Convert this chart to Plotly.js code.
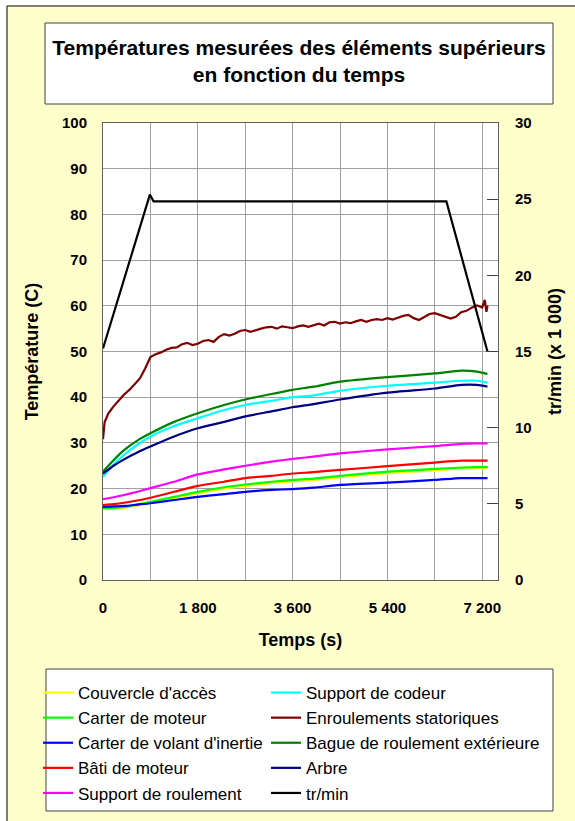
<!DOCTYPE html>
<html>
<head>
<meta charset="utf-8">
<script src="https://cdn.plot.ly/plotly-3.0.1.min.js"></script>
<style>
  html, body { margin: 0; padding: 0; background: #ffffff; }
  #chart { width: 575px; height: 821px; }
</style>
</head>
<body>
<div id="chart"></div>
<script>
// ---------- DATA ----------
const seriesNames = [
  "Couvercle d'accès", "Carter de moteur", "Carter de volant d'inertie", "Bâti de moteur", "Support de roulement",
  "Support de codeur", "Enroulements statoriques", "Bague de roulement extérieure", "Arbre", "tr/min"
];
const seriesColors = [
  "#ffff00", "#00ff00", "#0000ff", "#ff0000", "#ff00ff",
  "#00ffff", "#800000", "#008000", "#000080", "#000000"
];

// time (s) for the smooth temperature series
const tempTime = [0, 200, 400, 650, 900, 1350, 1800, 2300, 2700, 3200, 3600, 4000, 4500, 5400, 6300, 6800, 7100, 7300];

const couvercle   = [15.5, 15.6, 15.8, 16.3, 16.8, 17.9, 19.0, 20.0, 20.6, 21.2, 21.6, 21.9, 22.5, 23.4, 24.0, 24.4, 24.5, 24.5];
const carterMot   = [15.7, 15.8, 16.0, 16.5, 17.1, 18.2, 19.3, 20.3, 20.9, 21.5, 21.9, 22.2, 22.8, 23.7, 24.3, 24.6, 24.7, 24.7];
const carterVol   = [16.0, 16.1, 16.2, 16.5, 16.8, 17.5, 18.2, 18.8, 19.3, 19.7, 19.9, 20.2, 20.8, 21.3, 21.9, 22.3, 22.3, 22.3];
const batiMoteur  = [16.4, 16.6, 16.9, 17.4, 18.0, 19.3, 20.6, 21.5, 22.3, 22.8, 23.3, 23.6, 24.1, 24.9, 25.7, 26.1, 26.1, 26.1];
const suppRoul    = [17.7, 18.1, 18.6, 19.3, 20.1, 21.5, 23.1, 24.2, 25.0, 25.9, 26.5, 27.0, 27.7, 28.6, 29.3, 29.8, 29.9, 29.9];
const suppCodeur  = [22.6, 25.2, 27.4, 29.6, 31.4, 33.7, 35.4, 37.2, 38.3, 39.2, 40.0, 40.4, 41.4, 42.5, 43.2, 43.6, 43.6, 43.2];
const bague       = [23.7, 26.2, 28.4, 30.5, 32.1, 34.6, 36.5, 38.3, 39.5, 40.7, 41.6, 42.3, 43.4, 44.4, 45.2, 45.8, 45.6, 45.1];
const arbre       = [23.3, 25.0, 26.4, 27.9, 29.2, 31.4, 33.2, 34.6, 35.8, 36.9, 37.8, 38.5, 39.5, 41.0, 41.9, 42.7, 42.7, 42.3];

// noisy winding temperature
const enrTime = [0, 30, 100, 200, 300, 400, 500, 600, 700, 800, 900, 1000, 1100, 1200, 1300, 1400, 1500, 1600, 1700, 1800,
  1900, 2000, 2100, 2200, 2300, 2400, 2500, 2600, 2700, 2800, 2900, 3000, 3100, 3200, 3300, 3400, 3500, 3600, 3700, 3800,
  3900, 4000, 4100, 4200, 4300, 4400, 4500, 4600, 4700, 4800, 4900, 5000, 5100, 5200, 5300, 5400, 5500, 5600, 5700, 5800,
  5900, 6000, 6100, 6200, 6300, 6400, 6500, 6600, 6700, 6800, 6900, 7000, 7100, 7150, 7200, 7250, 7280, 7300];
const enroulements = [30.8, 34.5, 36.4, 38.0, 39.3, 40.6, 41.6, 42.9, 44.1, 46.3, 48.8, 49.4, 49.8, 50.4, 50.8, 50.9, 51.6, 51.9, 51.4, 51.7,
  52.3, 52.5, 52.1, 53.2, 53.8, 53.5, 53.9, 54.5, 54.7, 54.3, 54.7, 55.0, 55.3, 55.4, 55.0, 55.5, 55.3, 55.1, 55.5, 55.7,
  55.4, 55.8, 56.1, 55.7, 56.4, 56.5, 56.1, 56.4, 56.2, 56.6, 56.9, 56.5, 56.9, 57.1, 56.9, 57.3, 57.0, 57.4, 57.8, 58.0,
  57.3, 56.9, 57.6, 58.2, 58.4, 58.0, 57.5, 57.2, 57.6, 58.6, 58.9, 59.6, 60.1, 59.8, 59.6, 61.3, 58.7, 60.0];

// rotation speed (tr/min x 1000)
const rpmTime = [0, 890, 960, 6520, 7300];
const rpm = [15.2, 25.3, 24.85, 24.85, 15.0];

// axis ticks
const xTickVals = [0, 900, 1800, 2700, 3600, 4500, 5400, 6300, 7200];
const xTickText = ["0", "", "1 800", "", "3 600", "", "5 400", "", "7 200"];

// ---------- LAYOUT HELPERS ----------
const W = 575, H = 821;
const M = {l: 103, r: 77, t: 123, b: 241, autoexpand: false};
const PW = W - M.l - M.r, PH = H - M.t - M.b;
const px = x => (x - M.l) / PW;
const py = y => (H - M.b - y) / PH;

const FONT = "Liberation Sans, Arial, sans-serif";

const seriesX = [tempTime, tempTime, tempTime, tempTime, tempTime, tempTime, enrTime, tempTime, tempTime, rpmTime];
const seriesY = [couvercle, carterMot, carterVol, batiMoteur, suppRoul, suppCodeur, enroulements, bague, arbre, rpm];

const traces = seriesNames.map((name, i) => ({
  type: "scatter",
  mode: "lines",
  name: name,
  x: seriesX[i],
  y: seriesY[i],
  yaxis: i === 9 ? "y2" : "y",
  line: {color: seriesColors[i], width: 2.2, shape: i === 6 || i === 9 ? "linear" : "spline", smoothing: 0.6},
  legend: i < 5 ? "legend" : "legend2",
  legendgroup: "g" + i,
  hoverinfo: "skip"
}));

const boxLine = {color: "#404040", width: 1};
const titleFont = {family: FONT, size: 18, weight: "bold", color: "#000000"};
const tickFont = {family: FONT, size: 15, weight: "bold", color: "#000000"};
const legendFont = {family: FONT, size: 17, color: "#000000"};

const layout = {
  width: W, height: H,
  margin: M,
  paper_bgcolor: "#ffffff",
  plot_bgcolor: "#ffffff",
  showlegend: true,
  font: {family: FONT, color: "#000000"},
  title: {
    text: "Températures mesurées des éléments supérieurs<br>en fonction du temps",
    x: 299 / W, xanchor: "center", xref: "container",
    y: 1 - 55 / H, yanchor: "middle", yref: "container",
    font: {family: FONT, size: 21, weight: "bold", color: "#000000"}
  },
  xaxis: {
    range: [0, 7500],
    tickmode: "array", tickvals: xTickVals, ticktext: xTickText,
    showgrid: true, gridcolor: "#a0a0a0", gridwidth: 1,
    zeroline: false, showline: true, mirror: true, linecolor: "#606060", linewidth: 1,
    ticks: "", ticklabelstandoff: 14,
    tickfont: tickFont,
    title: {text: "Temps (s)", standoff: 18, font: titleFont},
    fixedrange: true
  },
  yaxis: {
    range: [0, 100], dtick: 10,
    showgrid: true, gridcolor: "#a0a0a0", gridwidth: 1,
    zeroline: false, showline: true, mirror: true, linecolor: "#606060", linewidth: 1,
    ticks: "", ticklabelstandoff: 12,
    tickfont: tickFont,
    title: {text: "Température (C)", standoff: 18, font: titleFont},
    fixedrange: true
  },
  yaxis2: {
    overlaying: "y", side: "right",
    range: [0, 30], dtick: 5,
    showgrid: false, zeroline: false, showline: false,
    ticks: "inside", ticklen: 11, tickcolor: "#404040", tickwidth: 1,
    ticklabelstandoff: 16,
    tickfont: tickFont,
    title: {text: "tr/min (x 1 000)", standoff: 17, font: titleFont},
    fixedrange: true
  },
  legend: {
    x: px(38), y: py(675), xanchor: "left", yanchor: "top",
    orientation: "v", bgcolor: "rgba(0,0,0,0)", borderwidth: 0,
    tracegroupgap: 0,
    font: legendFont
  },
  legend2: {
    x: px(266), y: py(675), xanchor: "left", yanchor: "top",
    orientation: "v", bgcolor: "rgba(0,0,0,0)", borderwidth: 0,
    tracegroupgap: 0,
    font: legendFont
  },
  shapes: [
    {type: "rect", xref: "paper", yref: "paper", layer: "below",
     x0: px(7), x1: px(585), y0: py(6), y1: py(830),
     fillcolor: "#ffffcc", line: {color: "#000000", width: 1}},
    {type: "rect", xref: "paper", yref: "paper", layer: "below",
     x0: 0, x1: 1, y0: 0, y1: 1, fillcolor: "#ffffff", line: {width: 0}},
    {type: "rect", xref: "paper", yref: "paper", layer: "below",
     x0: px(45), x1: px(553), y0: py(23), y1: py(104),
     fillcolor: "#ffffff", line: boxLine},
    {type: "rect", xref: "paper", yref: "paper", layer: "below",
     x0: px(46), x1: px(553), y0: py(669), y1: py(811),
     fillcolor: "#ffffff", line: boxLine}
  ]
};

Plotly.newPlot("chart", traces, layout, {displayModeBar: false, staticPlot: true});
</script>
</body>
</html>
